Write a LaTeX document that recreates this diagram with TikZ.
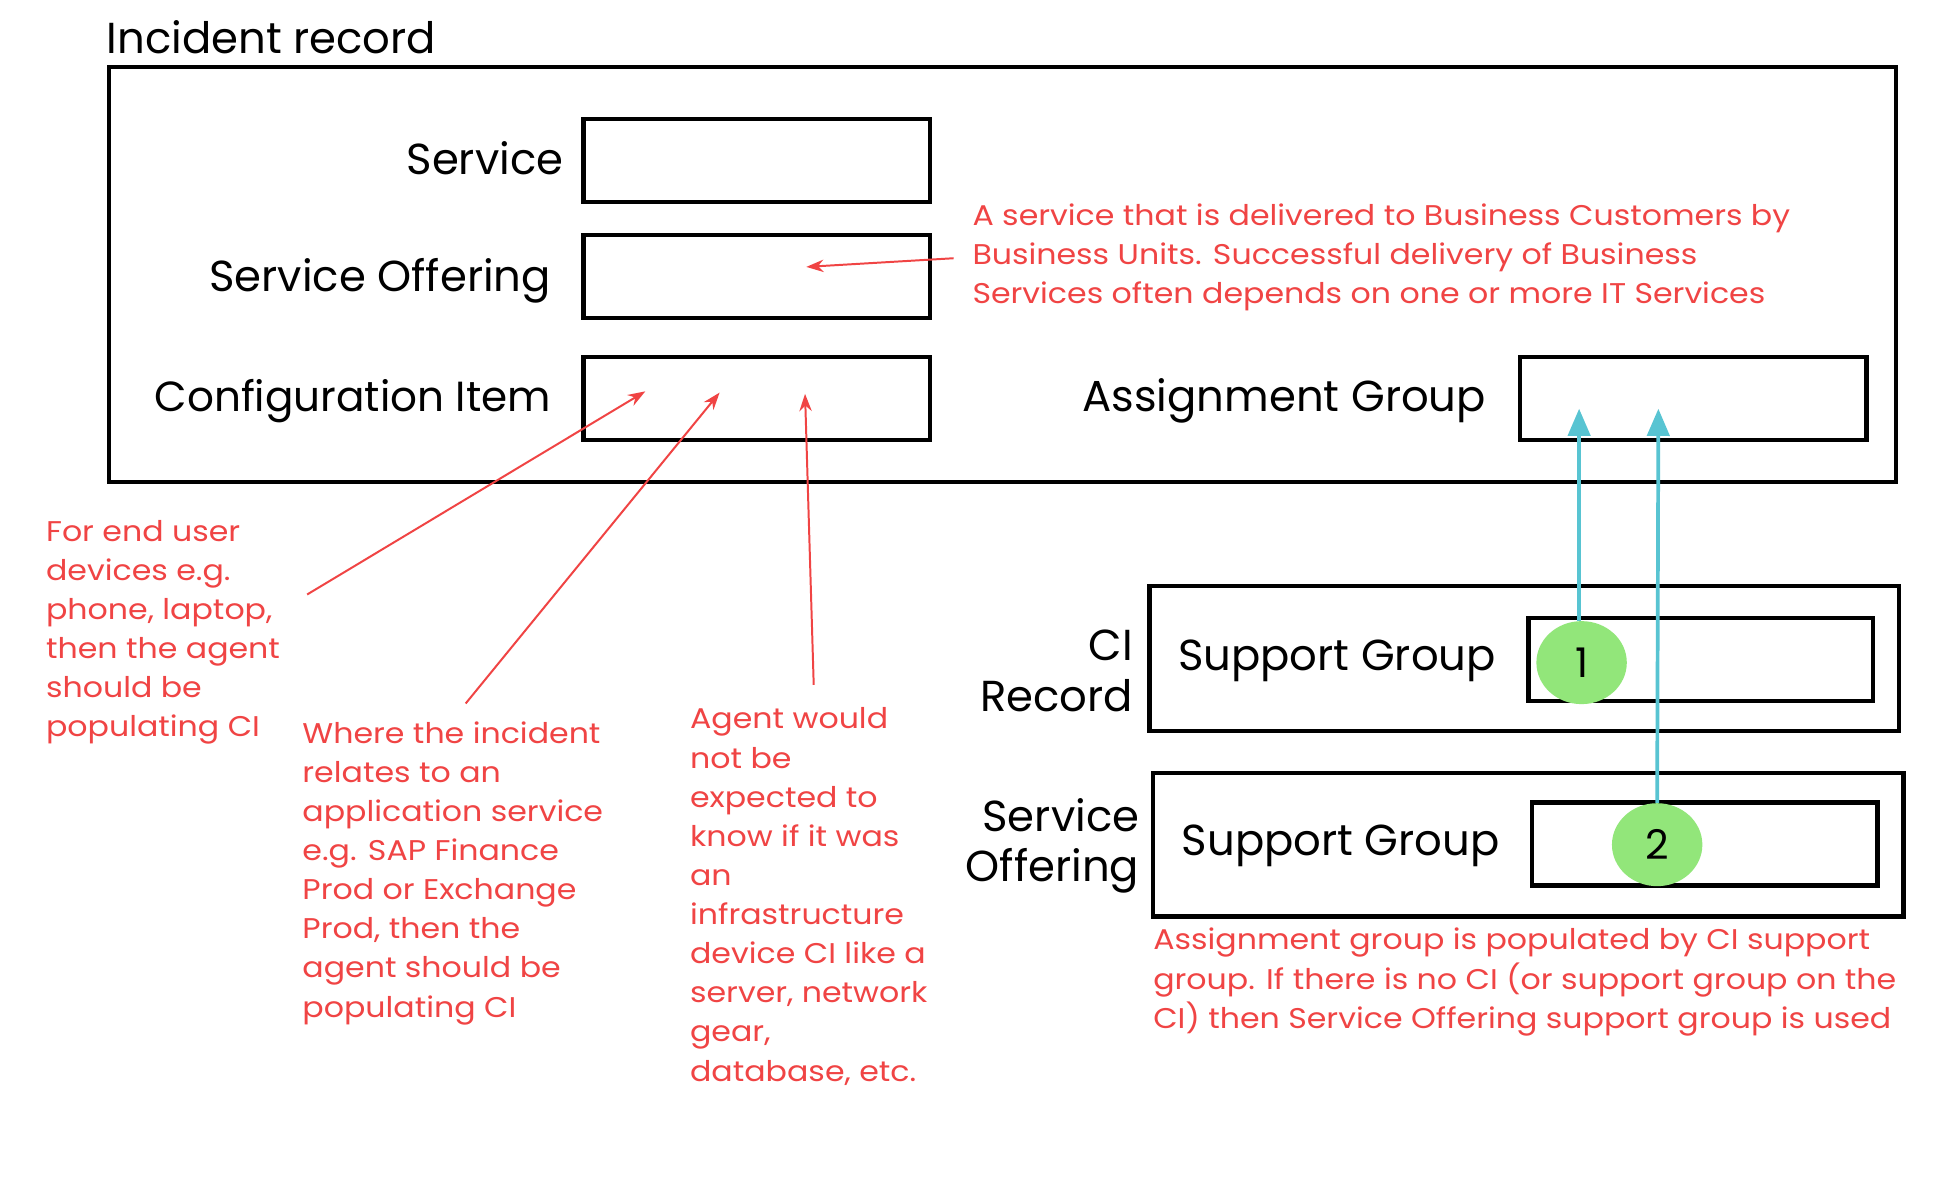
\documentclass[tikz,border=0pt]{standalone}
\usepackage{fontspec}
\setmainfont{Poppins}
\newfontfamily\annfont[FakeStretch=1.11]{Poppins}
\usetikzlibrary{arrows.meta,shapes.geometric}
\definecolor{annred}{RGB}{240,68,68}
\definecolor{tealc}{RGB}{88,196,210}
\definecolor{greenc}{RGB}{146,230,122}
\begin{document}
\begin{tikzpicture}[x=1pt,y=-1pt,
  field/.style={draw=black, line width=3.5pt, inner sep=0pt, minimum width=280pt, minimum height=67pt},
  frame/.style={draw=black, line width=3.5pt, inner sep=0pt},
  lbl/.style={inner sep=0pt, font=\fontsize{35}{41}\selectfont, text=black},
  ann/.style={inner sep=0pt, align=left, text=annred, font=\annfont\fontsize{23}{31.6}\selectfont},
  redarrow/.style={draw=annred, line width=1.6pt, -{Stealth[length=14pt,width=10pt]}},
  tealarrow/.style={draw=tealc, line width=3pt, -{Triangle[length=22pt,width=18pt]}},
  badge/.style={ellipse, fill=greenc, minimum width=73pt, minimum height=67pt, inner sep=0pt, font=\fontsize{33}{36}\selectfont}
]
\useasboundingbox (0,0) rectangle (1568,959);
\fill[white] (0,0) rectangle (1568,959);

% incident record
\node[lbl, anchor=base west] (inctitle) at (86,43) {Incident record};
\node[frame, minimum width=1443pt, minimum height=335pt] (inc) at (809.5,221.5) {};

\node[field] (svc) at (611,129.5) {};
\node[field] (so) at (611,223.5) {};
\node[field] (ci) at (611,321.5) {};
\node[field] (ag) at (1367,321.5) {};

\node[lbl, anchor=base east] (svclbl) at (455,140.5) {Service};
\node[lbl, anchor=base east] (solbl) at (445,235) {Service Offering};
\node[lbl, anchor=base east, font=\fontsize{34}{41}\selectfont] (cilbl) at (445,332.5) {Configuration Item};
\node[lbl, anchor=base east] (aglbl) at (1200,332.5) {Assignment Group};

% annotation top-right (base anchor = last line baseline)
\node[ann, anchor=base west] (soann) at (785,244.9) {A service that is delivered to Business Customers by\\Business Units. Successful delivery of Business\\Services often depends on one or more IT Services};
\coordinate (soannstart) at (770,208.5);
\coordinate (soannend) at (651,215.5);
\draw[redarrow] (soannstart) -- (soannend);

% left annotations
\node[ann, anchor=base west] (ann1) at (37,595) {For end user\\devices e.g.\\phone, laptop,\\then the agent\\should be\\populating CI};
\node[ann, anchor=base west] (ann2) at (244,821.2) {Where the incident\\relates to an\\application service\\e.g. SAP Finance\\Prod or Exchange\\Prod, then the\\agent should be\\populating CI};
\node[ann, anchor=base west] (ann3) at (557,872.9) {Agent would\\not be\\expected to\\know if it was\\an\\infrastructure\\device CI like a\\server, network\\gear,\\database, etc.};

\coordinate (a1s) at (248,480);
\coordinate (a1e) at (521,316);
\coordinate (a2s) at (376,568);
\coordinate (a2e) at (581,317);
\coordinate (a3s) at (657,553);
\coordinate (a3e) at (650,318);
\draw[redarrow] (a1s) -- (a1e);
\draw[redarrow] (a2s) -- (a2e);
\draw[redarrow] (a3s) -- (a3e);

% CI record
\node[frame, minimum width=605pt, minimum height=117pt] (cirec) at (1230.5,531.5) {};
\node[lbl, anchor=base east, align=right, font=\fontsize{35}{41.6}\selectfont] (cireclbl) at (915,574.6) {CI\\Record};
\node[frame, minimum width=278pt, minimum height=67pt] (cisg) at (1373,532.5) {};
\node[lbl, anchor=base west] (cisglbl) at (951,541) {Support Group};

% Service offering record
\node[frame, minimum width=606pt, minimum height=116pt] (sorec) at (1234,682) {};
\node[lbl, anchor=base east, align=right, font=\fontsize{35}{40.5}\selectfont] (soreclbl) at (920,712) {Service\\Offering};
\node[frame, minimum width=279pt, minimum height=67pt] (sosg) at (1376.5,681.5) {};
\node[lbl, anchor=base west] (sosglbl) at (954,690.5) {Support Group};

% badges
\node[badge] (b1) at (1277,535) {1};
\node[badge] (b2) at (1338,682) {2};

\coordinate (t1e) at (1275,330);
\coordinate (t2e) at (1339,330);
\draw[tealarrow] (b1.north -| t1e) -- (t1e);
\draw[tealarrow] (b2.north) -- (t2e);

\node[ann, anchor=base west] (agann) at (931,830.2) {Assignment group is populated by CI support\\group. If there is no CI (or support group on the\\CI) then Service Offering support group is used};
\end{tikzpicture}
\end{document}
